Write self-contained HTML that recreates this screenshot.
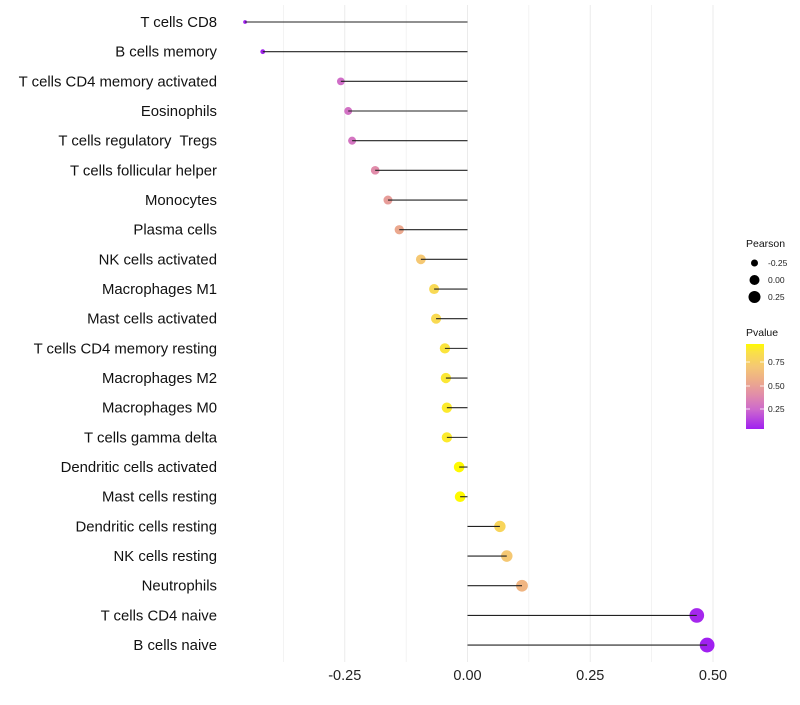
<!DOCTYPE html>
<html><head><meta charset="utf-8"><style>
body{margin:0;background:#fff;font-family:"Liberation Sans",sans-serif}
</style></head><body>
<svg id="c" width="800" height="700" xmlns="http://www.w3.org/2000/svg"></svg>
<script>
const categories=["T cells CD8","B cells memory","T cells CD4 memory activated","Eosinophils","T cells regulatory  Tregs","T cells follicular helper","Monocytes","Plasma cells","NK cells activated","Macrophages M1","Mast cells activated","T cells CD4 memory resting","Macrophages M2","Macrophages M0","T cells gamma delta","Dendritic cells activated","Mast cells resting","Dendritic cells resting","NK cells resting","Neutrophils","T cells CD4 naive","B cells naive"];
const pearson=[-0.453,-0.417,-0.258,-0.243,-0.235,-0.188,-0.162,-0.139,-0.095,-0.068,-0.064,-0.046,-0.044,-0.042,-0.042,-0.017,-0.015,0.066,0.080,0.111,0.467,0.488];
const pvalue=[0.05,0.06,0.27,0.29,0.30,0.40,0.48,0.53,0.70,0.80,0.81,0.86,0.87,0.88,0.88,0.93,0.93,0.78,0.70,0.60,0.07,0.05];
const xTicks=[-0.25,0,0.25,0.5];
const xTickLabels=["-0.25","0.00","0.25","0.50"];
const NS="http://www.w3.org/2000/svg";
const svg=document.getElementById('c');
const x=v=>467.5+v*491;
const y=i=>22+i*29.67;
const r=v=>Math.sqrt(Math.max(0.5,2.25+49.7*(v+0.453)));
const stops=[[0.05,[160,32,240]],[0.25,[205,105,205]],[0.4,[225,140,170]],[0.55,[237,172,138]],[0.7,[245,200,115]],[0.85,[250,225,70]],[0.93,[255,250,0]]];
function col(p){
if(p<=stops[0][0])return `rgb(${stops[0][1]})`;
for(let k=1;k<stops.length;k++){if(p<=stops[k][0]){const [p0,c0]=stops[k-1],[p1,c1]=stops[k];const t=(p-p0)/(p1-p0);
return `rgb(${c0.map((v,j)=>Math.round(v+(c1[j]-v)*t)).join(',')})`;}}
return `rgb(${stops[stops.length-1][1]})`;}
function mk(tag,a,txt){const e=document.createElementNS(NS,tag);for(const k in a)e.setAttribute(k,a[k]);if(txt!==undefined)e.textContent=txt;svg.appendChild(e);return e;}
for(let v=-0.375;v<=0.5;v+=0.125){
const g=mk('line',{x1:x(v),x2:x(v),y1:5,y2:662,stroke:'#ebebeb','stroke-width':Math.abs(v*4-Math.round(v*4))<1e-6?1:0.6});


}
xTicks.forEach((v,i)=>{
const t=mk('text',{x:x(v),y:680,'font-size':14.5,'text-anchor':'middle',fill:'#222'},xTickLabels[i]);


});
categories.forEach((c,i)=>{
const t=mk('text',{x:217,y:y(i)+5,'font-size':14.9,'text-anchor':'end',fill:'#111'},c);


t.style.whiteSpace='pre';
const p=mk('circle',{cx:x(pearson[i]),cy:y(i),r:r(pearson[i])+0.4,fill:col(pvalue[i])});


const l=mk('line',{x1:x(0),x2:x(pearson[i]),y1:y(i),y2:y(i),stroke:'#222','stroke-width':1.1});


});
let t=mk('text',{x:746,y:247,'font-size':10.5,fill:'#111'},'Pearson');

[[-0.25,263],[0,280],[0.25,297]].forEach(([v,yy],i)=>{
const c=mk('circle',{cx:754.5,cy:yy,r:[3.5,5,6][i],fill:'#000'});

const tt=mk('text',{x:768,y:yy+3,'font-size':8.5,fill:'#222'},['-0.25','0.00','0.25'][i]);

});
t=mk('text',{x:746,y:336,'font-size':10.5,fill:'#111'},'Pvalue');

const defs=mk('defs',{});
let gs='<linearGradient id="g" x1="0" y1="1" x2="0" y2="0">';
stops.forEach(([p,c])=>{gs+=`<stop offset="${(p-0.05)/0.88}" stop-color="rgb(${c})"/>`;});
defs.innerHTML=gs+'</linearGradient>';
const bar=mk('rect',{x:746,y:344,width:18,height:85,fill:'url(#g)'});

[[0.75,362],[0.5,386],[0.25,409]].forEach(([v,yy])=>{
mk('line',{x1:746,x2:750,y1:yy,y2:yy,stroke:'#fff','stroke-width':0.8});
mk('line',{x1:760,x2:764,y1:yy,y2:yy,stroke:'#fff','stroke-width':0.8});
const tt=mk('text',{x:768,y:yy+3,'font-size':8.5,fill:'#222'},v.toFixed(2));

});
</script>
</body></html>
